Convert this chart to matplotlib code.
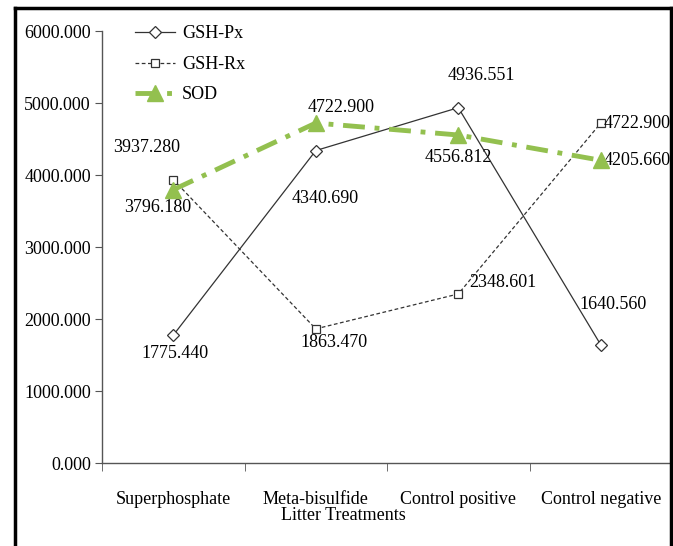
import matplotlib
matplotlib.use("Agg")
import matplotlib.pyplot as plt
from matplotlib.lines import Line2D
import numpy as np

categories = ["Superphosphate", "Meta-bisulfide", "Control positive", "Control negative"]
gsh_px = [1775.440, 4340.690, 4936.551, 1640.560]
gsh_rx = [3937.280, 1863.470, 2348.601, 4722.900]
sod = [3796.180, 4722.900, 4556.812, 4205.660]

plt.rcParams["font.family"] = ["Liberation Serif", "DejaVu Serif"]

fig = plt.figure(figsize=(6.73, 5.46), dpi=100)
ax = fig.add_axes([0.1516, 0.152, 0.847, 0.791])

x = np.arange(len(categories))
green = "#93C04F"

ax.plot(x, gsh_px, "-", color="#333333", lw=0.9, marker="D", ms=6,
        mfc="white", mec="#333333", mew=0.9, label="GSH-Px", zorder=3)
ax.plot(x, gsh_rx, "--", color="#333333", lw=0.9, dashes=(3, 2), marker="s", ms=6,
        mfc="white", mec="#333333", mew=0.9, label="GSH-Rx", zorder=3)
ax.plot(x, sod, color=green, lw=3.5, dashes=(4.5, 2, 1, 2), marker="^", ms=11,
        mfc=green, mec=green, label="SOD", zorder=4)

fs = 13
# value labels (offsets in points)
px_off = [(1, -13), (6.5, -34.5), (16.5, 23.5), (9, 29)]
rx_off = [(-19, 23), (13, -10), (32, 8), (26, 0)]
sod_off = [(-11, -13), (18, 11.5), (0, -16), (26, 0)]
for i in range(len(categories)):
    ax.annotate(f"{gsh_px[i]:.3f}", (x[i], gsh_px[i]), xytext=px_off[i],
                textcoords="offset points", ha="center", va="center", fontsize=fs)
    ax.annotate(f"{gsh_rx[i]:.3f}", (x[i], gsh_rx[i]), xytext=rx_off[i],
                textcoords="offset points", ha="center", va="center", fontsize=fs)
    ax.annotate(f"{sod[i]:.3f}", (x[i], sod[i]), xytext=sod_off[i],
                textcoords="offset points", ha="center", va="center", fontsize=fs)

ax.set_xlim(-0.5, 3.5)
ax.set_ylim(0, 6000)
ax.set_yticks(np.arange(0, 6001, 1000))
ax.set_yticklabels([f"{v:.3f}" for v in np.arange(0, 6001, 1000)], fontsize=fs)
ax.set_xticks(x)
ax.set_xticklabels(categories, fontsize=fs)
ax.tick_params(axis="x", length=0, pad=20)
ax.set_xticks(np.arange(-0.5, 3.6, 1), minor=True)
ax.tick_params(axis="x", which="minor", length=6, color="#555555")
ax.tick_params(axis="y", length=5, color="#555555", pad=3)

for s in ["top", "right"]:
    ax.spines[s].set_visible(False)
for s in ["left", "bottom"]:
    ax.spines[s].set_color("#555555")
    ax.spines[s].set_linewidth(1.0)

fig.text(343 / 673, 1 - 515 / 546, "Litter Treatments", ha="center", va="center", fontsize=fs)

leg = ax.legend(loc="upper left", bbox_to_anchor=(0.045, 1.03), frameon=False,
                fontsize=fs, handlelength=2.2, handletextpad=0.4,
                labelspacing=0.75, borderaxespad=0)

# outer frame
lw = 2.5
fx0, fx1 = 15 / 673, 671 / 673
fy1 = 1 - 8 / 546
fig.add_artist(Line2D([fx0, fx0], [0, fy1], color="black", lw=lw))
fig.add_artist(Line2D([fx0, fx1], [fy1, fy1], color="black", lw=lw))
fig.add_artist(Line2D([fx1, fx1], [0, fy1], color="black", lw=lw))

fig.savefig("out.png", dpi=100, facecolor="white")
